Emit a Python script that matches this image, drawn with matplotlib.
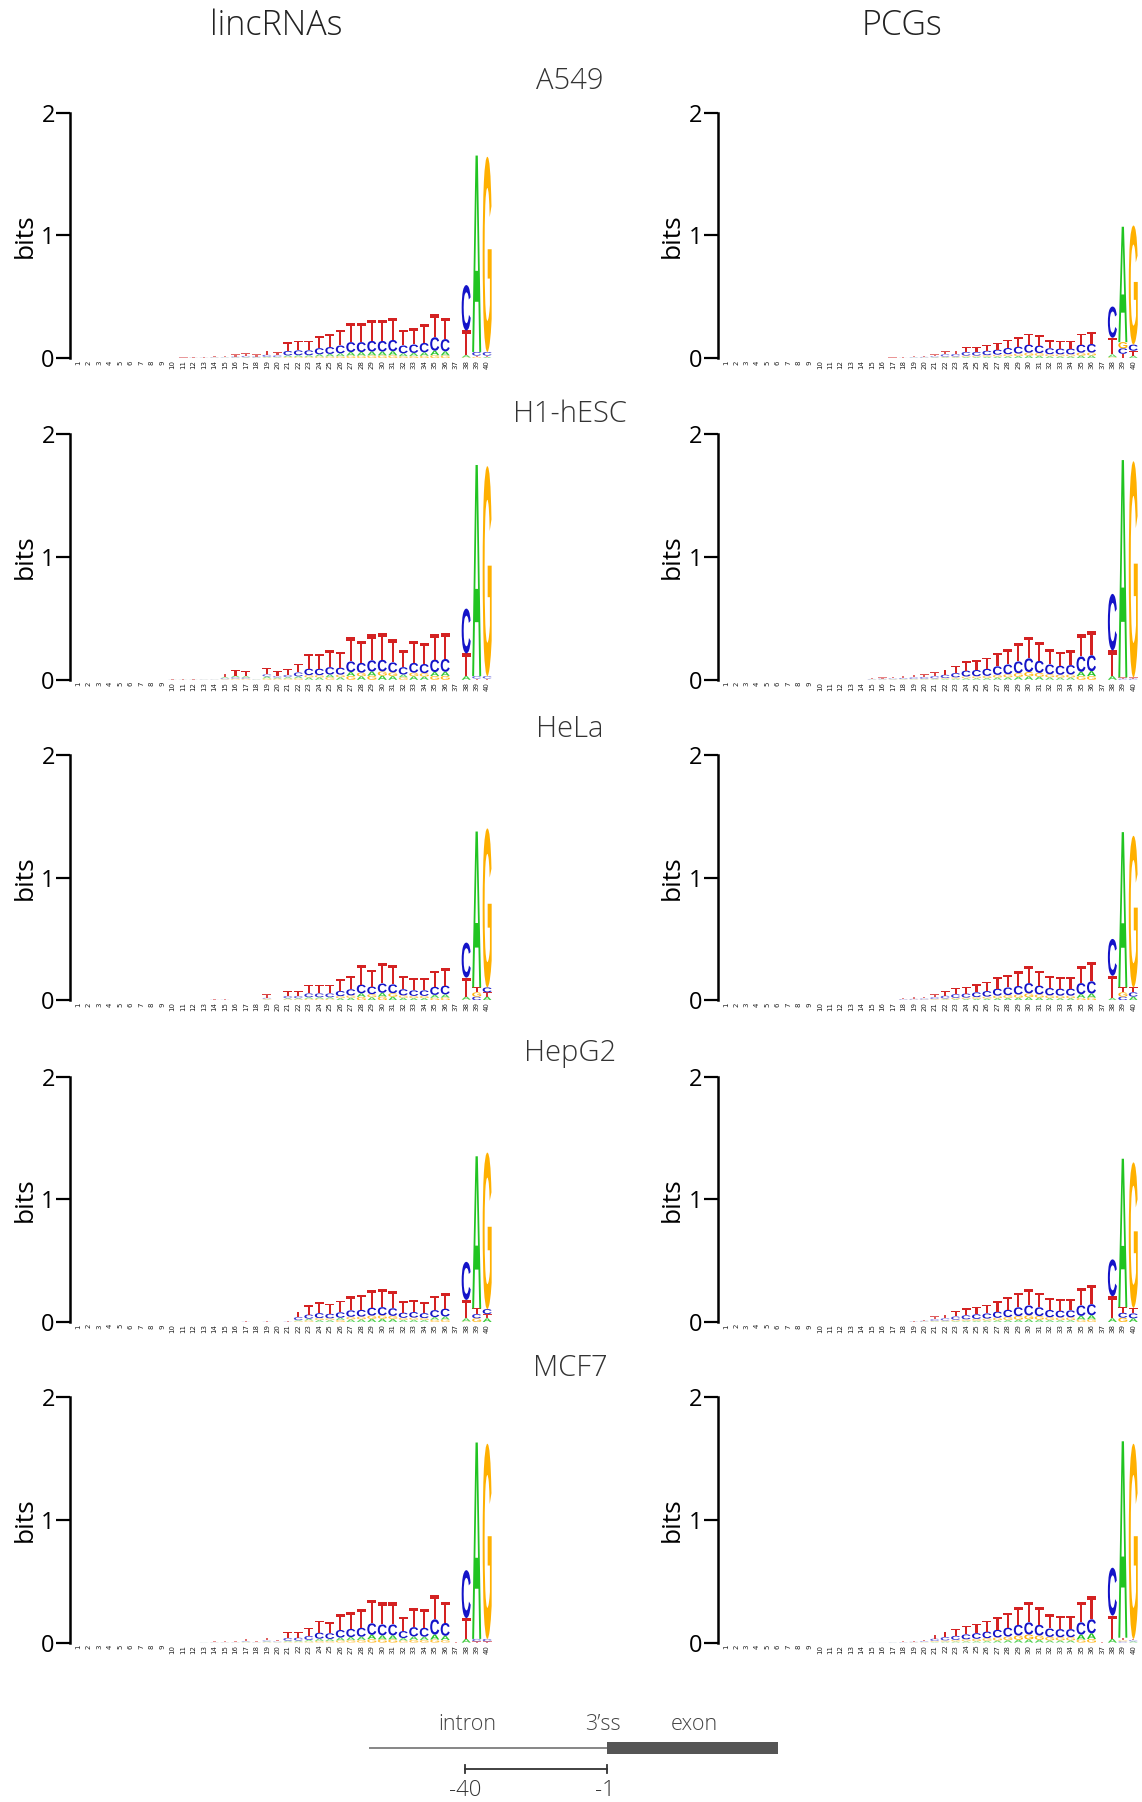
import matplotlib
matplotlib.use("Agg")
import matplotlib.pyplot as plt
from matplotlib.textpath import TextPath
from matplotlib.font_manager import FontProperties
from matplotlib.patches import PathPatch, Rectangle
from matplotlib.transforms import Affine2D

# ---------------- data (information content in bits, positions 1..40) ----------------
positions = list(range(1, 41))
cell_lines = ["A549", "H1-hESC", "HeLa", "HepG2", "MCF7"]
column_titles = ["lincRNAs", "PCGs"]

a549_linc_T = [0, 0, 0, 0, 0, 0, 0, 0, 0, 0,
               .003, .006, .006, .012, .009, .017, .022, .017, .033, .028,
               .072, .077, .077, .099, .110, .127, .160, .160, .170, .170,
               .182, .127, .135, .151, .190, .175, .002, .200, .010, .010]
a549_linc_C = [0, 0, 0, 0, 0, 0, 0, 0, 0, 0,
               .001, .002, .002, .004, .003, .008, .011, .008, .017, .014,
               .036, .039, .039, .050, .056, .064, .081, .081, .087, .087,
               .092, .064, .069, .077, .110, .100, 0, .370, .030, .030]
a549_linc_A = [0, 0, 0, 0, 0, 0, 0, 0, 0, 0,
               .001, .001, .001, .002, .002, .003, .004, .003, .006, .005,
               .013, .014, .014, .018, .020, .023, .029, .029, .031, .031,
               .033, .023, .025, .028, .036, .033, 0, .020, 1.600, .010]
a549_linc_G = [0, 0, 0, 0, 0, 0, 0, 0, 0, 0,
               0, .001, .001, .002, .001, .002, .003, .002, .004, .003,
               .009, .010, .010, .013, .014, .016, .020, .020, .022, .022,
               .023, .016, .017, .019, .024, .022, 0, .005, .010, 1.590]

a549_pcg_T = [0, 0, 0, 0, 0, 0, 0, 0, 0, 0,
              0, 0, 0, 0, 0, 0, .005, .006, .008, .010,
              .014, .026, .027, .040, .040, .050, .056, .068, .077, .090,
              .083, .065, .063, .063, .090, .095, .002, .136, .035, .040]
a549_pcg_C = [0, 0, 0, 0, 0, 0, 0, 0, 0, 0,
              0, 0, 0, 0, 0, 0, 0, .002, .004, .006,
              .009, .019, .020, .030, .030, .036, .041, .050, .056, .066,
              .061, .048, .046, .046, .066, .070, 0, .254, .045, .050]
a549_pcg_A = [0, 0, 0, 0, 0, 0, 0, 0, 0, 0,
              0, 0, 0, 0, 0, 0, 0, 0, .002, .002,
              .004, .006, .006, .009, .009, .011, .013, .015, .017, .020,
              .019, .015, .014, .014, .020, .021, 0, .022, .940, .020]
a549_pcg_G = [0, 0, 0, 0, 0, 0, 0, 0, 0, 0,
              0, 0, 0, 0, 0, 0, 0, 0, .001, .002,
              .003, .006, .007, .011, .011, .013, .015, .017, .020, .024,
              .022, .017, .017, .017, .024, .024, 0, .008, .050, .970]

h1_linc_T = [0, 0, 0, 0, 0, 0, 0, 0, 0, .003,
             .003, .003, .006, .006, .028, .045, .040, .005, .055, .040,
             .050, .070, .120, .120, .137, .131, .200, .182, .211, .217,
             .188, .137, .182, .171, .205, .210, .002, .185, .010, .010]
h1_linc_C = [0, 0, 0, 0, 0, 0, 0, 0, 0, .001,
             .001, .001, .002, .002, .008, .012, .010, .002, .018, .012,
             .018, .032, .052, .052, .060, .057, .087, .080, .092, .095,
             .082, .060, .080, .075, .102, .105, 0, .365, .020, .020]
h1_linc_A = [0, 0, 0, 0, 0, 0, 0, 0, 0, .001,
             .001, .001, .001, .001, .009, .014, .012, .002, .015, .010,
             .012, .015, .019, .019, .022, .021, .032, .029, .034, .034,
             .030, .022, .029, .027, .032, .033, 0, .030, 1.720, 0]
h1_linc_G = [0, 0, 0, 0, 0, 0, 0, 0, 0, 0,
             0, 0, .001, .001, .005, .009, .008, .001, .012, .008,
             .010, .013, .019, .019, .021, .021, .031, .029, .033, .034,
             .030, .021, .029, .027, .031, .032, 0, 0, 0, 1.710]

h1_pcg_T = [0, 0, 0, 0, 0, 0, 0, 0, 0, 0,
            0, 0, 0, 0, .008, .010, .013, .015, .020, .024,
            .030, .042, .055, .075, .080, .090, .110, .125, .150, .175,
            .155, .125, .115, .120, .180, .200, .002, .210, .010, .010]
h1_pcg_C = [0, 0, 0, 0, 0, 0, 0, 0, 0, 0,
            0, 0, 0, 0, .004, .006, .007, .009, .013, .015,
            .019, .027, .035, .048, .051, .058, .070, .080, .096, .112,
            .099, .080, .074, .077, .125, .130, 0, .460, .010, .010]
h1_pcg_A = [0, 0, 0, 0, 0, 0, 0, 0, 0, 0,
            0, 0, 0, 0, .002, .002, .002, .003, .003, .004,
            .005, .007, .009, .012, .013, .014, .018, .020, .024, .028,
            .025, .020, .018, .019, .035, .040, 0, .030, 1.770, 0]
h1_pcg_G = [0, 0, 0, 0, 0, 0, 0, 0, 0, 0,
            0, 0, 0, 0, .001, .002, .003, .003, .004, .004,
            .006, .007, .011, .015, .016, .018, .022, .025, .030, .035,
            .031, .025, .023, .024, .030, .030, 0, 0, 0, 1.760]

hela_linc_T = [0, 0, 0, 0, 0, 0, 0, 0, 0, 0,
               0, 0, 0, .006, .006, 0, .003, 0, .030, 0,
               .040, .040, .069, .069, .069, .094, .110, .157, .138, .168,
               .160, .110, .099, .099, .130, .140, .002, .155, .040, .035]
hela_linc_C = [0, 0, 0, 0, 0, 0, 0, 0, 0, 0,
               0, 0, 0, .002, .002, 0, .001, 0, .008, 0,
               .018, .018, .031, .031, .031, .042, .050, .071, .062, .076,
               .072, .050, .045, .045, .066, .072, 0, .285, .030, .040]
hela_linc_A = [0, 0, 0, 0, 0, 0, 0, 0, 0, 0,
               0, 0, 0, .001, .001, 0, .001, 0, .006, 0,
               .009, .009, .013, .013, .013, .017, .020, .029, .025, .031,
               .029, .020, .018, .018, .024, .026, 0, .025, 1.270, .030]
hela_linc_G = [0, 0, 0, 0, 0, 0, 0, 0, 0, 0,
               0, 0, 0, .001, .001, 0, 0, 0, .006, 0,
               .008, .008, .012, .012, .012, .017, .020, .028, .025, .030,
               .029, .020, .018, .018, .020, .022, 0, .005, .035, 1.295]

hela_pcg_T = [0, 0, 0, 0, 0, 0, 0, 0, 0, 0,
              0, 0, 0, 0, 0, 0, 0, .010, .013, .015,
              .025, .038, .050, .055, .065, .075, .095, .105, .118, .140,
              .120, .100, .095, .095, .140, .155, .002, .180, .040, .040]
hela_pcg_C = [0, 0, 0, 0, 0, 0, 0, 0, 0, 0,
              0, 0, 0, 0, 0, 0, 0, .006, .007, .009,
              .015, .022, .030, .033, .039, .045, .057, .063, .070, .084,
              .072, .060, .057, .057, .090, .100, 0, .300, .030, .035]
hela_pcg_A = [0, 0, 0, 0, 0, 0, 0, 0, 0, 0,
              0, 0, 0, 0, 0, 0, 0, .002, .002, .003,
              .004, .007, .009, .010, .012, .014, .017, .019, .021, .025,
              .022, .018, .017, .017, .030, .033, 0, .020, 1.265, .030]
hela_pcg_G = [0, 0, 0, 0, 0, 0, 0, 0, 0, 0,
              0, 0, 0, 0, 0, 0, 0, .002, .003, .003,
              .006, .008, .011, .012, .014, .016, .021, .023, .026, .031,
              .026, .022, .021, .021, .020, .022, 0, 0, .035, 1.235]

hepg2_linc_T = [0, 0, 0, 0, 0, 0, 0, 0, 0, 0,
                0, 0, 0, 0, 0, 0, .008, 0, .008, 0,
                .007, .045, .074, .088, .083, .096, .115, .121, .143, .149,
                .138, .094, .099, .088, .113, .126, .002, .150, .045, .035]
hepg2_linc_C = [0, 0, 0, 0, 0, 0, 0, 0, 0, 0,
                0, 0, 0, 0, 0, 0, .002, 0, .002, 0,
                .003, .025, .034, .040, .037, .044, .053, .055, .065, .067,
                .062, .042, .045, .040, .057, .064, 0, .310, .035, .040]
hepg2_linc_A = [0, 0, 0, 0, 0, 0, 0, 0, 0, 0,
                0, 0, 0, 0, 0, 0, 0, 0, 0, 0,
                0, .008, .014, .016, .015, .018, .021, .022, .026, .027,
                .025, .017, .018, .016, .022, .025, 0, .025, 1.240, .030]
hepg2_linc_G = [0, 0, 0, 0, 0, 0, 0, 0, 0, 0,
                0, 0, 0, 0, 0, 0, 0, 0, 0, 0,
                0, .007, .013, .016, .015, .017, .021, .022, .026, .027,
                .025, .017, .018, .016, .018, .020, 0, .005, .030, 1.275]

hepg2_pcg_T = [0, 0, 0, 0, 0, 0, 0, 0, 0, 0,
               0, 0, 0, 0, 0, 0, 0, 0, .006, .010,
               .022, .030, .045, .055, .062, .070, .085, .100, .120, .135,
               .120, .097, .092, .095, .140, .155, .002, .180, .045, .045]
hepg2_pcg_C = [0, 0, 0, 0, 0, 0, 0, 0, 0, 0,
               0, 0, 0, 0, 0, 0, 0, 0, .003, .006,
               .014, .018, .027, .033, .038, .042, .051, .060, .072, .081,
               .072, .059, .056, .057, .085, .090, 0, .300, .040, .040]
hepg2_pcg_A = [0, 0, 0, 0, 0, 0, 0, 0, 0, 0,
               0, 0, 0, 0, 0, 0, 0, 0, .001, .002,
               .004, .005, .007, .009, .010, .011, .014, .016, .019, .022,
               .019, .016, .015, .015, .030, .033, 0, .030, 1.210, .030]
hepg2_pcg_G = [0, 0, 0, 0, 0, 0, 0, 0, 0, 0,
               0, 0, 0, 0, 0, 0, 0, 0, 0, .002,
               .005, .007, .011, .013, .015, .017, .020, .024, .029, .032,
               .029, .023, .022, .023, .020, .022, 0, 0, .035, 1.185]

mcf7_linc_T = [0, 0, 0, 0, 0, 0, 0, 0, 0, 0,
               0, 0, .003, .006, .006, .006, .017, .006, .022, .011,
               .047, .050, .066, .099, .094, .127, .138, .149, .193, .182,
               .182, .116, .154, .149, .200, .170, .002, .170, .010, .010]
mcf7_linc_C = [0, 0, 0, 0, 0, 0, 0, 0, 0, 0,
               0, 0, .001, .002, .002, .002, .006, .002, .009, .005,
               .023, .024, .032, .049, .046, .062, .067, .073, .094, .089,
               .089, .057, .076, .073, .125, .105, 0, .390, .020, .020]
mcf7_linc_A = [0, 0, 0, 0, 0, 0, 0, 0, 0, 0,
               0, 0, .001, .001, .001, .001, .004, .001, .005, .002,
               .008, .009, .012, .018, .017, .023, .025, .027, .035, .033,
               .033, .021, .028, .027, .040, .034, 0, .030, 1.600, 0]
mcf7_linc_G = [0, 0, 0, 0, 0, 0, 0, 0, 0, 0,
               0, 0, 0, .001, .001, .001, .003, .001, .004, .002,
               .007, .007, .010, .014, .013, .018, .020, .021, .028, .026,
               .026, .016, .022, .021, .025, .021, 0, 0, 0, 1.590]

mcf7_pcg_T = [0, 0, 0, 0, 0, 0, 0, 0, 0, 0,
              0, 0, 0, 0, .004, .004, .005, .006, .008, .013,
              .033, .045, .055, .068, .078, .090, .105, .123, .145, .165,
              .145, .115, .110, .110, .165, .190, .002, .190, .020, .010]
mcf7_pcg_C = [0, 0, 0, 0, 0, 0, 0, 0, 0, 0,
              0, 0, 0, 0, .001, .001, .002, .003, .004, .007,
              .019, .027, .033, .040, .046, .054, .063, .073, .087, .099,
              .087, .069, .066, .066, .100, .115, 0, .390, .010, .010]
mcf7_pcg_A = [0, 0, 0, 0, 0, 0, 0, 0, 0, 0,
              0, 0, 0, 0, 0, 0, .001, .001, .001, .002,
              .005, .007, .009, .011, .012, .014, .017, .020, .023, .026,
              .023, .018, .018, .018, .040, .045, 0, .030, 1.600, .010]
mcf7_pcg_G = [0, 0, 0, 0, 0, 0, 0, 0, 0, 0,
              0, 0, 0, 0, 0, 0, 0, 0, .002, .003,
              .008, .011, .013, .016, .019, .022, .025, .029, .035, .040,
              .035, .028, .026, .026, .025, .030, 0, 0, .010, 1.590]

panels = [
    [dict(A=a549_linc_A, C=a549_linc_C, G=a549_linc_G, T=a549_linc_T),
     dict(A=a549_pcg_A, C=a549_pcg_C, G=a549_pcg_G, T=a549_pcg_T)],
    [dict(A=h1_linc_A, C=h1_linc_C, G=h1_linc_G, T=h1_linc_T),
     dict(A=h1_pcg_A, C=h1_pcg_C, G=h1_pcg_G, T=h1_pcg_T)],
    [dict(A=hela_linc_A, C=hela_linc_C, G=hela_linc_G, T=hela_linc_T),
     dict(A=hela_pcg_A, C=hela_pcg_C, G=hela_pcg_G, T=hela_pcg_T)],
    [dict(A=hepg2_linc_A, C=hepg2_linc_C, G=hepg2_linc_G, T=hepg2_linc_T),
     dict(A=hepg2_pcg_A, C=hepg2_pcg_C, G=hepg2_pcg_G, T=hepg2_pcg_T)],
    [dict(A=mcf7_linc_A, C=mcf7_linc_C, G=mcf7_linc_G, T=mcf7_linc_T),
     dict(A=mcf7_pcg_A, C=mcf7_pcg_C, G=mcf7_pcg_G, T=mcf7_pcg_T)],
]

# ---------------- style ----------------
letter_colors = {"A": "#21C421", "C": "#1414C8", "G": "#FFB000", "T": "#D42222"}
TXT = "Open Sans"

W, H = 1142, 1802
fig = plt.figure(figsize=(W / 100, H / 100), dpi=100)

glyph_fp = FontProperties(family="Liberation Sans", weight="bold")
glyphs = {}
for L in "ACGT":
    tp = TextPath((0, 0), L, size=1, prop=glyph_fp)
    glyphs[L] = (tp, tp.get_extents())


def draw_letter(ax, L, x, y, w, h):
    tp, ext = glyphs[L]
    tr = (Affine2D().translate(-ext.x0, -ext.y0)
          .scale(w / ext.width, h / ext.height)
          .translate(x - w / 2, y))
    alpha = 1.0 if h >= 0.04 else 0.4 + 0.6 * h / 0.04
    ax.add_patch(PathPatch(tr.transform_path(tp), facecolor=letter_colors[L],
                           edgecolor="none", lw=0, alpha=alpha))


left_px = [72.9, 720.5]
width_px = [419.5, 418.0]
top_px = [112.6, 434.3, 754.8, 1076.5, 1397.1]
height_px = 245.5
letter_w = 0.86
label_right_px = [38, 685]

for r in range(5):
    for c in range(2):
        ax = fig.add_axes([left_px[c] / W, 1 - (top_px[r] + height_px) / H,
                           width_px[c] / W, height_px / H])
        data = panels[r][c]
        for i, p in enumerate(positions):
            stack = sorted("ACGT", key=lambda L: data[L][i])
            y = 0.0
            for L in stack:
                h = data[L][i]
                if h > 0:
                    draw_letter(ax, L, p, y, letter_w, h)
                    y += h
        ax.set_xlim(0.5, 40.5)
        ax.set_ylim(0, 2)
        for s in ["top", "right", "bottom"]:
            ax.spines[s].set_visible(False)
        ax.spines["left"].set_position(("outward", 2))
        ax.spines["left"].set_bounds(0, 2)
        ax.spines["left"].set_linewidth(1.8)
        ax.set_yticks([0, 1, 2])
        ax.set_yticklabels(["0", "1", "2"], fontsize=17, family=TXT, color="black")
        ax.tick_params(axis="y", length=10, width=1.6, pad=1)
        ax.set_xticks(positions)
        ax.set_xticklabels([str(p) for p in positions], rotation=90, fontsize=5,
                           color="#222222", family="DejaVu Sans")
        ax.tick_params(axis="x", length=0, pad=1.5)
        ax.set_ylabel("bits", fontsize=19, family=TXT, color="black")
        ax.yaxis.set_label_coords((label_right_px[c] - left_px[c]) / width_px[c], 0.5)
        ax.patch.set_alpha(0)

# titles
fig.text(276 / W, 1 - 26 / H, column_titles[0], ha="center", va="center",
         fontsize=24.5, family=TXT, weight="light", color="#222222")
fig.text(902 / W, 1 - 26 / H, column_titles[1], ha="center", va="center",
         fontsize=24.5, family=TXT, weight="light", color="#222222")
row_title_y = [81, 414, 729, 1053, 1368]
for name, ty in zip(cell_lines, row_title_y):
    fig.text(570 / W, 1 - ty / H, name, ha="center", va="center",
             fontsize=21, family=TXT, weight="light", color="#333333")

# schematic at the bottom
ov = fig.add_axes([0, 0, 1, 1])
ov.set_xlim(0, W)
ov.set_ylim(H, 0)
ov.axis("off")
ov.plot([369, 607], [1748, 1748], color="#666666", lw=1.1, solid_capstyle="butt")
ov.add_patch(Rectangle((607, 1742.2), 171, 11.7, facecolor="#555555", edgecolor="none"))
ov.plot([465, 607], [1769, 1769], color="#333333", lw=1.3)
ov.plot([465, 465], [1765, 1773], color="#333333", lw=1.3)
ov.plot([607, 607], [1765, 1773], color="#333333", lw=1.3)
for s, x in [("intron", 467), ("3\u2019ss", 603), ("exon", 694)]:
    ov.text(x, 1724, s, ha="center", va="center", fontsize=15.5, family=TXT,
            weight="light", color="#444444")
for s, x in [("-40", 465), ("-1", 605)]:
    ov.text(x, 1790, s, ha="center", va="center", fontsize=16, family=TXT,
            weight="light", color="#333333")

fig.savefig("out.png", dpi=100)
